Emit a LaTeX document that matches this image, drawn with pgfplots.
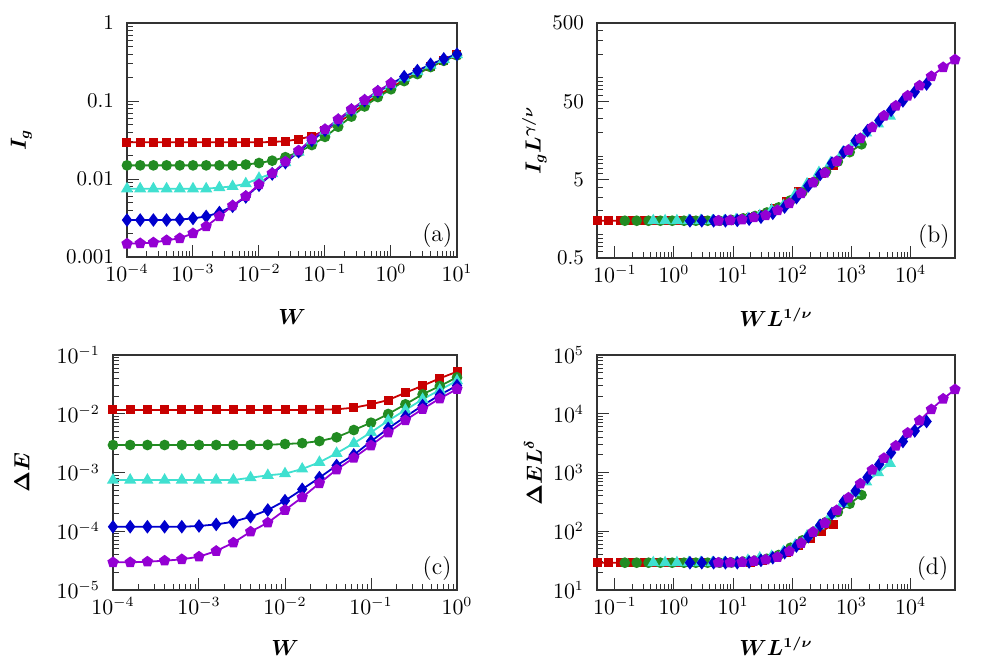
\documentclass[border=0pt]{standalone}
\usepackage{pgfplots}
\usepackage{pgfplotstable}
\usepackage{bm}
\pgfplotsset{compat=1.18}

\definecolor{cred}{RGB}{200,0,0}
\definecolor{cgreen}{RGB}{34,139,34}
\definecolor{ccyan}{RGB}{64,224,208}
\definecolor{cblue}{RGB}{0,0,205}
\definecolor{cpurple}{RGB}{148,0,211}

% panel (a): I_g vs W
\pgfplotstableread{
x        r       g       c        b        p
1e-4     0.02951 0.01496 0.0075   0.002979 0.001479
1.585e-4 0.02951 0.01496 0.0075   0.002979 0.001496
2.512e-4 0.02951 0.01496 0.0075   0.002979 0.001531
3.981e-4 0.02951 0.01496 0.0075   0.002979 0.001637
6.310e-4 0.02951 0.01496 0.0075   0.00302  0.001738
1e-3     0.02951 0.01496 0.0075   0.003126 0.002009
1.585e-3 0.02951 0.01496 0.0075   0.003311 0.002472
2.512e-3 0.02951 0.01496 0.007762 0.003715 0.003319
3.981e-3 0.02951 0.01496 0.008035 0.004467 0.00455
6.310e-3 0.02951 0.01531 0.00871  0.005888 0.006026
1e-2     0.02951 0.01603 0.01023  0.008318 0.008511
1.585e-2 0.02985 0.01718 0.01175  0.01161  0.01183
2.512e-2 0.03055 0.01905 0.01622  0.01622  0.01667
3.981e-2 0.03236 0.02213 0.02213  0.02239  0.02307
6.310e-2 0.03548 0.02723 0.0309   0.03126  0.03236
0.1      0.04169 0.03467 0.04121  0.04217  0.04335
0.1585   0.05248 0.04677 0.05559  0.05689  0.05821
0.2512   0.06918 0.0631  0.075    0.07674  0.07834
0.3981   0.0912  0.08511 0.09886  0.1012   0.103
0.6310   0.1175  0.1122  0.1288   0.1318   0.1343
1        0.1479  0.1413  0.1622   0.166    0.1687
1.585    0.1862  0.1799  0.1995   0.2051   nan
2.512    0.2291  0.2213  0.2399   0.2449   nan
3.981    0.2754  0.2723  0.2884   0.2951   nan
6.310    0.3311  0.3273  0.3428   0.3467   nan
10       0.389   0.3846  0.3936   0.3981   nan
}\tabA

% panel (b): scaled I_g
\pgfplotstableread{
xr     yr    xg     yg    xc     yc    xb     yb    xp     yp
0.0501 1.496 0.1479 1.496 0.4467 1.496 1.862  1.493 5.623  1.496
0.0794 1.496 0.2344 1.496 0.7079 1.496 2.951  1.493 8.913  1.514
0.1259 1.496 0.3715 1.496 1.122  1.496 4.677  1.493 14.13  1.549
0.1995 1.496 0.5888 1.496 1.778  1.496 7.413  1.493 22.39  1.656
0.3162 1.496 0.9333 1.496 2.818  1.496 11.75  1.514 35.48  1.758
0.5012 1.496 1.479  1.496 4.467  1.496 18.62  1.567 56.23  2.032
0.7943 1.496 2.344  1.496 7.079  1.496 29.51  1.66  89.13  2.5
1.259  1.496 3.715  1.496 11.22  1.549 46.77  1.862 141.3  3.357
1.995  1.496 5.888  1.496 17.78  1.603 74.13  2.239 223.9  4.603
3.162  1.496 9.333  1.531 28.18  1.738 117.5  2.951 354.8  6.095
5.012  1.496 14.79  1.603 44.67  2.042 186.2  4.169 562.3  8.61
7.943  1.514 23.44  1.718 70.79  2.344 295.1  5.821 891.3  11.97
12.59  1.549 37.15  1.905 112.2  3.236 467.7  8.128 1413   16.87
19.95  1.641 58.88  2.213 177.8  4.416 741.3  11.22 2239   23.33
31.62  1.799 93.33  2.723 281.8  6.166 1175   15.67 3548   32.73
50.12  2.113 147.9  3.467 446.7  8.222 1862   21.13 5623   43.85
79.43  2.661 234.4  4.677 707.9  11.09 2951   28.51 8913   58.88
125.9  3.508 371.5  6.31  1122   14.96 4677   38.46 14130  79.25
199.5  4.624 588.8  8.511 1778   19.72 7413   50.7  22390  104.3
316.2  5.957 933.3  11.22 2818   25.7  11750  66.07 35480  135.8
501.2  7.499 1479   14.13 4467   32.36 18620  83.18 56230  170.6
}\tabB

% panel (c): Delta E vs W
\pgfplotstableread{
x        r       g        c        b        p
1e-4     0.01161 0.002938 7.447e-4 1.194e-4 2.958e-5
1.585e-4 0.01161 0.002938 7.447e-4 1.194e-4 2.958e-5
2.512e-4 0.01161 0.002938 7.447e-4 1.194e-4 3.034e-5
3.981e-4 0.01161 0.002938 7.447e-4 1.194e-4 3.155e-5
6.310e-4 0.01161 0.002938 7.447e-4 1.194e-4 3.327e-5
1e-3     0.01161 0.002938 7.447e-4 1.23e-4  3.69e-5
1.585e-3 0.01161 0.002938 7.447e-4 1.309e-4 4.613e-5
2.512e-3 0.01161 0.002938 7.447e-4 1.452e-4 6.397e-5
3.981e-3 0.01161 0.002938 8.166e-4 1.77e-4  9.84e-5
6.310e-3 0.01161 0.002965 8.954e-4 2.301e-4 1.4e-4
1e-2     0.01161 0.003055 9.55e-4  3.311e-4 2.301e-4
1.585e-2 0.01161 0.003162 1.148e-3 5.176e-4 3.776e-4
2.512e-2 0.01175 0.003428 1.493e-3 8.166e-4 6.546e-4
3.981e-2 0.01191 0.003972 2.123e-3 1.318e-3 1.122e-3
6.310e-2 0.01268 0.005284 3.141e-3 1.995e-3 1.778e-3
0.1      0.01445 0.007047 4.831e-3 3.388e-3 2.884e-3
0.1585   0.01714 0.009908 7.621e-3 5.623e-3 4.786e-3
0.2512   0.0228  0.01449  0.01159  8.913e-3 7.762e-3
0.3981   0.03    0.02143  0.01762  0.0138   0.01202
0.6310   0.04009 0.02965  0.02535  0.02089  0.0182
1        0.052   0.04169  0.03656  0.0302   0.0263
}\tabC

% panel (d): scaled Delta E
\pgfplotstableread{
xr     yr    xg     yg    xc     yc    xb     yb    xp     yp
0.0501 29.17 0.1479 29.17 0.4467 29.17 1.862  29.17 5.623  29.17
0.0794 29.17 0.2344 29.17 0.7079 29.17 2.951  29.17 8.913  29.17
0.1259 29.17 0.3715 29.17 1.122  29.17 4.677  29.17 14.13  29.92
0.1995 29.17 0.5888 29.17 1.778  29.17 7.413  29.17 22.39  31.12
0.3162 29.17 0.9333 29.17 2.818  29.17 11.75  29.17 35.48  32.81
0.5012 29.17 1.479  29.17 4.467  29.17 18.62  30.06 56.23  36.39
0.7943 29.17 2.344  29.17 7.079  29.17 29.51  31.99 89.13  45.5
1.259  29.17 3.715  29.17 11.22  29.17 46.77  35.48 141.3  63.1
1.995  29.17 5.888  29.17 17.78  31.99 74.13  43.25 223.9  97.05
3.162  29.17 9.333  29.44 28.18  35.08 117.5  56.23 354.8  138.0
5.012  29.17 14.79  30.34 44.67  37.41 186.2  80.91 562.3  227.0
7.943  29.17 23.44  31.41 70.79  44.98 295.1  126.5 891.3  372.4
12.59  29.51 37.15  34.04 112.2  58.48 467.7  199.5 1413   645.7
19.95  29.92 58.88  39.45 177.8  83.18 741.3  322.1 2239   1107
31.62  31.84 93.33  52.48 281.8  123.0 1175   487.5 3548   1754
50.12  36.31 147.9  69.98 446.7  189.2 1862   827.9 5623   2844
79.43  43.05 234.4  98.4  707.9  298.5 2951   1374  8913   4721
125.9  57.28 371.5  143.9 1122   453.9 4677   2178  14130  7656
199.5  75.34 588.8  212.8 1778   690.2 7413   3373  22390  11860
316.2  100.7 933.3  294.4 2818   993.1 11750  5105  35480  17950
501.2  130.6 1479   414   4467   1432  18620  7379  56230  25940
}\tabD

\pgfplotsset{
  myaxis/.style={
    scale only axis,
    axis line style={black!80, line width=0.9pt},
    tick style={black!80, line width=0.5pt},
    major tick length=6pt, minor tick length=3pt,
    tick align=inside, xtick pos=bottom, ytick pos=left,
    yticklabel style={xshift=-3pt},
  },
  sred/.style={cred, line width=0.9pt, mark=square*, mark size=1.8pt},
  sgreen/.style={cgreen, line width=0.9pt, mark=*, mark size=2.2pt},
  scyan/.style={ccyan, line width=0.9pt, mark=triangle*, mark size=2.6pt},
  sblue/.style={cblue, line width=0.9pt, mark=diamond*, mark size=2.7pt},
  spurple/.style={cpurple, line width=0.9pt, mark=pentagon*, mark size=2.4pt},
}
\tikzset{plabel/.style={anchor=south east, inner sep=0pt, font=\fontsize{12}{14}\selectfont}}

\begin{document}
\begin{tikzpicture}[font=\fontsize{10.5}{12.6}\selectfont]
\path[use as bounding box] (0,0) rectangle (498pt,-332pt);

% (a)
\begin{loglogaxis}[myaxis, at={(63.5pt,-11.5pt)}, anchor=north west,
    width=165pt, height=117pt,
    xmin=1e-4, xmax=10, ymin=1e-3, ymax=1,
    ytick={1e-3,1e-2,1e-1,1}, yticklabels={0.001,0.01,0.1,1},
    xlabel={$\bm{W}$}, ylabel={$\bm{I_g}$},
    xlabel style={at={(axis description cs:0.5,-0.29)}, anchor=base},
    ylabel style={at={(axis description cs:-0.32,0.5)}, anchor=center}]
\addplot[sred] table[x=x, y=r] {\tabA};
\addplot[sgreen] table[x=x, y=g] {\tabA};
\addplot[scyan] table[x=x, y=c] {\tabA};
\addplot[sblue] table[x=x, y=b] {\tabA};
\addplot[spurple] table[x=x, y=p] {\tabA};
\node[plabel] at (rel axis cs:0.987,0.037) {(a)};
\end{loglogaxis}

% (b)
\begin{loglogaxis}[myaxis, at={(298.5pt,-11.5pt)}, anchor=north west,
    width=179pt, height=117.5pt,
    xmin=0.05, xmax=5.623e4, ymin=0.5, ymax=500,
    xtick={1e-1,1,10,100,1000,10000},
    ytick={0.5,5,50,500}, yticklabels={0.5,5,50,500},
    minor ytick={0.6,0.7,0.8,0.9,1,2,3,4,6,7,8,9,10,20,30,40,60,70,80,90,100,200,300,400},
    xlabel={$\bm{W L^{1/\nu}}$}, ylabel={$\bm{I_g L^{\gamma/\nu}}$},
    xlabel style={at={(axis description cs:0.5,-0.29)}, anchor=base},
    ylabel style={at={(axis description cs:-0.175,0.5)}, anchor=center}]
\addplot[sred] table[x=xr, y=yr] {\tabB};
\addplot[sgreen] table[x=xg, y=yg] {\tabB};
\addplot[scyan] table[x=xc, y=yc] {\tabB};
\addplot[sblue] table[x=xb, y=yb] {\tabB};
\addplot[spurple] table[x=xp, y=yp] {\tabB};
\node[plabel] at (rel axis cs:0.986,0.038) {(b)};
\end{loglogaxis}

% (c)
\begin{loglogaxis}[myaxis, at={(56.5pt,-177.5pt)}, anchor=north west,
    width=172pt, height=117.5pt,
    xmin=1e-4, xmax=1, ymin=1e-5, ymax=1e-1,
    xlabel={$\bm{W}$}, ylabel={$\bm{\Delta E}$},
    xlabel style={at={(axis description cs:0.5,-0.277)}, anchor=base},
    ylabel style={at={(axis description cs:-0.265,0.5)}, anchor=center}]
\addplot[sred] table[x=x, y=r] {\tabC};
\addplot[sgreen] table[x=x, y=g] {\tabC};
\addplot[scyan] table[x=x, y=c] {\tabC};
\addplot[sblue] table[x=x, y=b] {\tabC};
\addplot[spurple] table[x=x, y=p] {\tabC};
\node[plabel] at (rel axis cs:0.985,0.038) {(c)};
\end{loglogaxis}

% (d)
\begin{loglogaxis}[myaxis, at={(298.5pt,-177.5pt)}, anchor=north west,
    width=179pt, height=117.5pt,
    xmin=0.05, xmax=5.623e4, ymin=10, ymax=1e5,
    xtick={1e-1,1,10,100,1000,10000},
    xlabel={$\bm{W L^{1/\nu}}$}, ylabel={$\bm{\Delta E L^{\delta}}$},
    xlabel style={at={(axis description cs:0.5,-0.277)}, anchor=base},
    ylabel style={at={(axis description cs:-0.179,0.5)}, anchor=center}]
\addplot[sred] table[x=xr, y=yr] {\tabD};
\addplot[sgreen] table[x=xg, y=yg] {\tabD};
\addplot[scyan] table[x=xc, y=yc] {\tabD};
\addplot[sblue] table[x=xb, y=yb] {\tabD};
\addplot[spurple] table[x=xp, y=yp] {\tabD};
\node[plabel] at (rel axis cs:0.982,0.04) {(d)};
\end{loglogaxis}
\end{tikzpicture}
\end{document}
